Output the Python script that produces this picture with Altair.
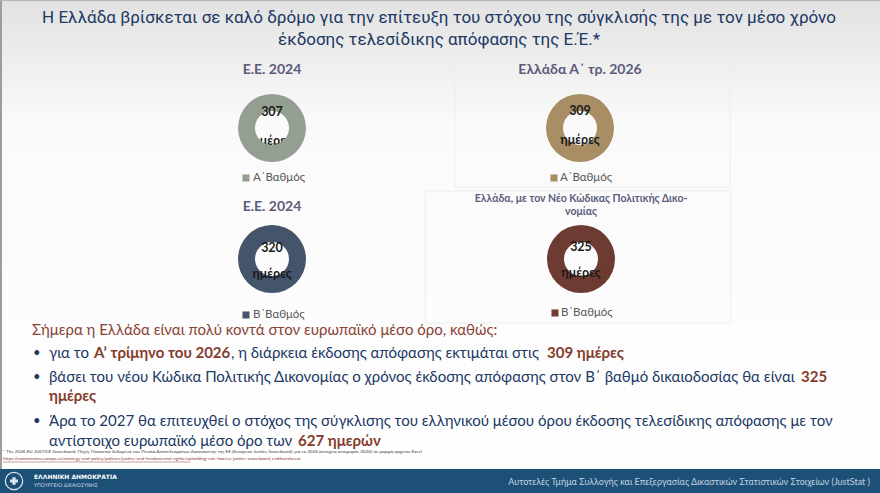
import altair as alt
import pandas as pd

# ---------------- data ----------------
series_keys = ["ee_a", "gr_a", "ee_b", "gr_b"]
panel_titles = ["E.E. 2024", "Ελλάδα Α΄ τρ. 2026", "E.E. 2024",
                "Ελλάδα, με τον Νέο Κώδικας Πολιτικής Δικο-\nνομίας"]
grades = ["Α΄Βαθμός", "Α΄Βαθμός", "Β΄Βαθμός", "Β΄Βαθμός"]
days = [307, 309, 320, 325]
unit_labels = ["ημέρες", "ημέρες", "ημέρες", "ημέρες"]
series_colors = ["#939f90", "#a98d65", "#44546a", "#6e3b33"]

title_lines = [
    "Η Ελλάδα βρίσκεται σε καλό δρόμο για την επίτευξη του στόχου της σύγκλισής της με τον μέσο χρόνο",
    "έκδοσης τελεσίδικης απόφασης της Ε.Έ.*",
]
intro_text = "Σήμερα η Ελλάδα είναι πολύ κοντά στον ευρωπαϊκό μέσο όρο, καθώς:"
body_texts = [
    ["για το ", "Α’ τρίμηνο του 2026", ", η διάρκεια έκδοσης απόφασης εκτιμάται στις ", "309 ημέρες"],
    ["βάσει του νέου Κώδικα Πολιτικής Δικονομίας ο χρόνος έκδοσης απόφασης στον Β΄ βαθμό δικαιοδοσίας θα είναι ", "325"],
    ["ημέρες"],
    ["Άρα το 2027 θα επιτευχθεί ο στόχος της σύγκλισης του ελληνικού μέσου όρου έκδοσης τελεσίδικης απόφασης με τον"],
    ["αντίστοιχο ευρωπαϊκό μέσο όρο των ", "627 ημερών"],
]
body_bold = [
    [False, True, False, True],
    [False, True],
    [True],
    [False],
    [False, True],
]
bullet_lines = [0, 1, 3]
footnote_lines = [
    "* The 2026 EU JUSTICE Scoreboard, Πηγή: Ποσοτικά δεδομένα του Πίνακα Αποτελεσμάτων Δικαιοσύνης της ΕΕ (European Justice Scoreboard) για το 2026 (στοιχεία αναφοράς 2024) σε μορφή αρχείου Excel",
    "https://commission.europa.eu/strategy-and-policy/policies/justice-and-fundamental-rights/upholding-rule-law/eu-justice-scoreboard_en#factsheets",
]
footer_left = ["ΕΛΛΗΝΙΚΗ ΔΗΜΟΚΡΑΤΙΑ", "ΥΠΟΥΡΓΕΙΟ ΔΙΚΑΙΟΣΥΝΗΣ"]
footer_right = "Αυτοτελές Τμήμα Συλλογής και Επεξεργασίας Δικαστικών Στατιστικών Στοιχείων (JustStat )"

df = pd.DataFrame({"key": series_keys, "title": panel_titles, "grade": grades,
                   "days": days, "unit": unit_labels})

# ---------------- layout / style ----------------
W, H = 880, 493
NAVY = "#203864"
BROWN = "#843c2c"
TITLE_FONT = "Roboto"
BODY_FONT = "Lato"
BODY_SIZE = 15
panels = [  # cx, cy, title_y, title_size, num_y, unit_y, leg_sq_x, leg_txt_x, leg_y
    (272, 128, 70, 14, 112, 141, 246, 253, 178),
    (580, 128, 70, 14, 111, 140, 554, 560, 178),
    (272, 259, 207, 14, 248, 274, 246, 253, 315),
    (581, 259, 199, 10.5, 247, 273, 555, 561, 313),
]
body_y = [353, 377, 396, 421, 441]
body_x = [[49, 94, 231, 547], [49, 801], [49], [49], [49, 298]]

one = pd.DataFrame({"k": [0]})
color_enc = alt.Color("key:N", scale=alt.Scale(domain=series_keys, range=series_colors), legend=None)

layers = []

# background
layers.append(alt.Chart(one).mark_rect(
    fill=alt.Gradient(gradient="linear", x1=0, x2=0, y1=0, y2=1,
                      stops=[alt.GradientStop(offset=0, color="#e2e2e2"),
                             alt.GradientStop(offset=0.25, color="#fafafa"),
                             alt.GradientStop(offset=1, color="#ffffff")])
).encode(x=alt.value(0), x2=alt.value(W), y=alt.value(0), y2=alt.value(H)))

# faint panel frames
for (x0, y0, x1, y1) in [(455, 57, 730, 187), (425, 191, 731, 323)]:
    layers.append(alt.Chart(one).mark_rect(fill="#ffffff", fillOpacity=0.0, stroke="#ededed", strokeWidth=1)
                  .encode(x=alt.value(x0), x2=alt.value(x1), y=alt.value(y0), y2=alt.value(y1)))

# borders
layers.append(alt.Chart(one).mark_rect(fill="#9c9c9c").encode(
    x=alt.value(0), x2=alt.value(2), y=alt.value(0), y2=alt.value(469)))
layers.append(alt.Chart(one).mark_rect(fill="#b5b5b5").encode(
    x=alt.value(0), x2=alt.value(W), y=alt.value(0), y2=alt.value(1)))

# title
for i, t in enumerate(title_lines):
    layers.append(alt.Chart(pd.DataFrame({"t": [t]})).mark_text(
        font=TITLE_FONT, fontSize=17, color=NAVY, align="center", baseline="middle"
    ).encode(text="t:N", x=alt.value(439), y=alt.value(18 + 22 * i)))

# donut panels
for i, (cx, cy, ty, tsize, ny, uy, lsx, ltx, ly) in enumerate(panels):
    base = alt.Chart(df).transform_filter(alt.datum.key == series_keys[i])
    title = base.mark_text(font=BODY_FONT, fontWeight="bold", fontSize=tsize, color="#5b5b7b",
                           align="center", baseline="middle", lineBreak="\n", lineHeight=13
                           ).encode(text="title:N", x=alt.value(cx), y=alt.value(ty))
    arc = base.mark_arc(outerRadius=34, innerRadius=17).encode(
        theta=alt.Theta("days:Q", stack="normalize"), color=color_enc,
        x=alt.value(cx), y=alt.value(cy))
    num = base.mark_text(font=BODY_FONT, fontWeight="bold", fontSize=12.5, color="#1a1a1a",
                         baseline="middle").encode(text="days:Q", x=alt.value(cx), y=alt.value(ny))
    unit = base.mark_text(font=BODY_FONT, fontWeight="bold", fontSize=12.5, color="#1a1a1a",
                          baseline="middle").encode(text="unit:N", x=alt.value(cx), y=alt.value(uy))
    sq = base.mark_square(size=50, opacity=1).encode(color=color_enc, x=alt.value(lsx), y=alt.value(ly))
    lt = base.mark_text(font=BODY_FONT, fontSize=11.5, color="#595959", align="left",
                        baseline="middle").encode(text="grade:N", x=alt.value(ltx), y=alt.value(ly))
    if i == 0:
        layers += [title, unit, arc, num, sq, lt]
    else:
        layers += [title, arc, num, unit, sq, lt]

# body text
layers.append(alt.Chart(pd.DataFrame({"t": [intro_text]})).mark_text(
    font=BODY_FONT, fontSize=BODY_SIZE, color="#8a4234", align="left", baseline="middle"
).encode(text="t:N", x=alt.value(32), y=alt.value(330)))
for li in bullet_lines:
    layers.append(alt.Chart(pd.DataFrame({"t": ["•"]})).mark_text(
        font=BODY_FONT, fontSize=13, color=NAVY, align="left", baseline="middle"
    ).encode(text="t:N", x=alt.value(33), y=alt.value(body_y[li])))
for li, segs in enumerate(body_texts):
    for si, seg in enumerate(segs):
        bold = body_bold[li][si]
        layers.append(alt.Chart(pd.DataFrame({"t": [seg]})).mark_text(
            font=BODY_FONT, fontSize=BODY_SIZE, fontWeight="bold" if bold else "normal",
            color=BROWN if bold else NAVY, align="left", baseline="middle"
        ).encode(text="t:N", x=alt.value(body_x[li][si]), y=alt.value(body_y[li])))

# footnote
layers.append(alt.Chart(pd.DataFrame({"t": [footnote_lines[0]]})).mark_text(
    font=BODY_FONT, fontSize=4.6, color="#404040", align="left", baseline="middle"
).encode(text="t:N", x=alt.value(3), y=alt.value(452)))
layers.append(alt.Chart(pd.DataFrame({"t": [footnote_lines[1]]})).mark_text(
    font=BODY_FONT, fontSize=4.6, color="#8a3a2c", align="left", baseline="middle"
).encode(text="t:N", x=alt.value(3), y=alt.value(459)))
layers.append(alt.Chart(one).mark_rule(color="#8a3a2c", strokeWidth=0.5).encode(
    x=alt.value(3), x2=alt.value(190), y=alt.value(462)))

# footer
layers.append(alt.Chart(one).mark_rect(fill="#1c5077").encode(
    x=alt.value(0), x2=alt.value(W), y=alt.value(469), y2=alt.value(H)))
layers.append(alt.Chart(one).mark_point(shape="circle", size=300, stroke="#dfe8f0", strokeWidth=1.2,
                                        filled=False, opacity=1).encode(x=alt.value(14), y=alt.value(481)))
layers.append(alt.Chart(one).mark_point(shape="cross", size=60, fill="#dfe8f0", filled=True,
                                        opacity=1).encode(x=alt.value(14), y=alt.value(481)))
for i, t in enumerate(footer_left):
    layers.append(alt.Chart(pd.DataFrame({"t": [t]})).mark_text(
        font="DejaVu Sans", fontSize=6 if i == 0 else 5, fontWeight="bold" if i == 0 else "normal",
        color="#ffffff" if i == 0 else "#c9d6e3", align="left", baseline="middle"
    ).encode(text="t:N", x=alt.value(34), y=alt.value(477 + 8 * i)))
layers.append(alt.Chart(pd.DataFrame({"t": [footer_right]})).mark_text(
    font=BODY_FONT, fontSize=9, color="#c5d3e0", align="right", baseline="middle"
).encode(text="t:N", x=alt.value(870), y=alt.value(482)))

chart = alt.layer(*layers).properties(
    width=W, height=H, autosize=alt.AutoSizeParams(type="none"), padding=0,
    background="#ffffff"
).configure_view(stroke=None)

chart.save("out.html", embed_options={"renderer": "svg", "actions": False})
